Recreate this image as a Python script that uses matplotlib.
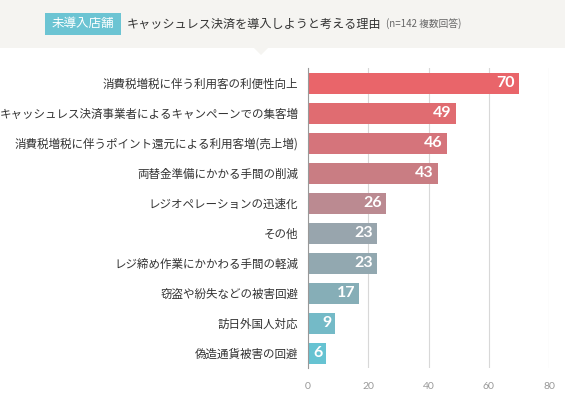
import matplotlib
matplotlib.use("Agg")
import matplotlib.pyplot as plt
from matplotlib.patches import Rectangle, Polygon

plt.rcParams['font.family'] = ['Noto Sans CJK JP', 'DejaVu Sans']

# ── data ──────────────────────────────────────────────
categories = [
    "消費税増税に伴う利用客の利便性向上",
    "キャッシュレス決済事業者によるキャンペーンでの集客増",
    "消費税増税に伴うポイント還元による利用客増(売上増)",
    "両替金準備にかかる手間の削減",
    "レジオペレーションの迅速化",
    "その他",
    "レジ締め作業にかかわる手間の軽減",
    "窃盗や紛失などの被害回避",
    "訪日外国人対応",
    "偽造通貨被害の回避",
]
values = [70, 49, 46, 43, 26, 23, 23, 17, 9, 6]
bar_colors = ["#e9656a", "#e06c71", "#d5747b", "#c97d83", "#bb8a91",
              "#98a5ad", "#92a8b0", "#86aeb7", "#74bac7", "#66c3d2"]
x_ticks = [0, 20, 40, 60, 80]

W, H = 565, 396
fig = plt.figure(figsize=(W / 100, H / 100), dpi=100)
fig.patch.set_facecolor("white")

# ── header band ───────────────────────────────────────
fig.patches.append(Rectangle((0, 1 - 48 / H), 1, 48 / H, transform=fig.transFigure,
                             facecolor="#f5f4f1", edgecolor="none", zorder=0))
fig.patches.append(Polygon([(254 / W, 1 - 48 / H), (268 / W, 1 - 48 / H), (261 / W, 1 - 55 / H)],
                           closed=True, transform=fig.transFigure,
                           facecolor="#f5f4f1", edgecolor="none", zorder=0))
fig.patches.append(Rectangle((45 / W, 1 - 35 / H), 76 / W, 22 / H, transform=fig.transFigure,
                             facecolor="#6cc4d3", edgecolor="none", zorder=1))
fig.text(83 / W, 1 - 24 / H, "未導入店舗", color="white", fontsize=9,
         ha="center", va="center")
fig.text(127 / W, 1 - 24 / H, "キャッシュレス決済を導入しようと考える理由",
         color="#333333", fontsize=8.7, ha="left", va="center")
fig.text(386 / W, 1 - 24 / H, "(n=142 複数回答)", color="#666666", fontsize=7,
         ha="left", va="center")

# ── bar chart ─────────────────────────────────────────
ax = fig.add_axes([308 / W, 1 - 368 / H, 241 / W, 300 / H])
y = list(range(len(categories)))
ax.barh(y, values, height=0.7, color=bar_colors, zorder=3)
for yi, v in zip(y, values):
    ax.text(v - 1.3, yi, str(v), color="white", fontsize=11.5, fontweight="bold",
            ha="right", va="center", family=["Lato", "DejaVu Sans"], zorder=4)

ax.set_xlim(0, 80)
ax.set_ylim(len(categories) - 0.5, -0.5)
ax.set_yticks(y)
ax.set_yticklabels(categories, fontsize=8.3, color="#333333")
ax.set_xticks(x_ticks)
ax.set_xticklabels([str(t) for t in x_ticks], fontsize=7.5, color="#999999",
                   family=["Lato", "DejaVu Sans"])
ax.tick_params(axis="both", length=0)
ax.tick_params(axis="y", pad=7)
ax.tick_params(axis="x", pad=10)
ax.grid(axis="x", color="#d8d8d8", linewidth=0.8, zorder=0)
for s in ["top", "right", "bottom"]:
    ax.spines[s].set_visible(False)
ax.spines["left"].set_color("#999999")
ax.spines["left"].set_linewidth(0.8)
ax.spines["left"].set_zorder(5)
ax.set_facecolor("white")

fig.savefig("out.png", dpi=100)
